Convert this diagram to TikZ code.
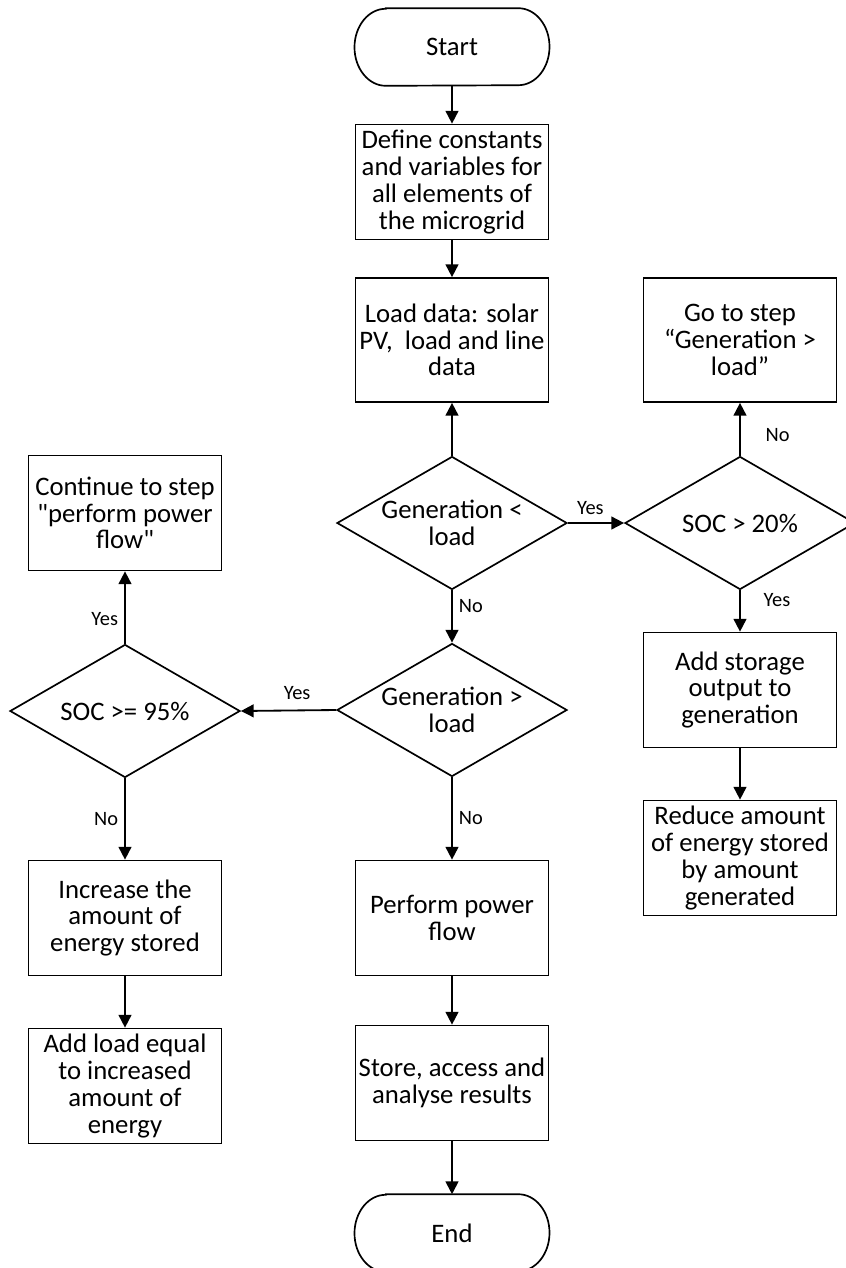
\documentclass[tikz,border=0pt]{standalone}
\usepackage{fontspec}
\setmainfont{Carlito}[Ligatures=TeXOff]
\usetikzlibrary{arrows.meta,shapes.geometric}

\begin{document}
\begin{tikzpicture}[x=0.025cm,y=-0.025cm,
			line/.style = {line width=1.3pt},
			arrow/.style = {line, -{Triangle[length=0.32cm,width=0.32cm]}},
			boxtext/.style = {align=center, font=\fontsize{19}{19}\selectfont},
			process/.style = {boxtext, draw, line width=1.2pt, minimum width=4.825cm, minimum height=2.875cm, inner sep=1pt},
			tallprocess/.style = {process, minimum height=3.1cm},
			decision/.style = {boxtext, draw, diamond, aspect=1.73, line width=1.2pt, minimum width=5.75cm, minimum height=3.325cm, inner sep=0pt},
			terminal/.style = {boxtext, minimum width=3.3cm, minimum height=1.925cm, inner sep=0pt},
			answer/.style = {font=\fontsize{14.5}{15}\selectfont, inner sep=2pt}
					]
			\def\termrx{0.78cm}
			\def\termry{0.9625cm}
			\def\drawterminal#1{\draw[line width=1.2pt] (#1.north west) -- (#1.north east)
				arc[start angle=90, end angle=-90, x radius=\termrx, y radius=\termry] -- (#1.south west)
				arc[start angle=270, end angle=90, x radius=\termrx, y radius=\termry] -- cycle;}
			\useasboundingbox (0,0) rectangle (846,1268);
			% middle column
			\node[terminal] (start) at (452,47) {Start};
			\node[process] (define) at (452,182) {Define constants\\and variables for\\all elements of\\the microgrid};
			\node[tallprocess] (loaddata) at (452,340) {Load data: solar\\PV,\ \ load and line\\data};
			\node[decision] (genless) at (452,523) {Generation <\\load};
			\node[decision] (genmore) at (452,710) {Generation >\\load};
			\node[process] (perform) at (452,918) {Perform power\\flow};
			\node[process] (store) at (452,1083) {Store, access and\\analyse results};
			\node[terminal] (end) at (452,1233) {End};
			\drawterminal{start}
			\drawterminal{end}
			% right column
			\node[decision] (soc20) at (740,523) {SOC > 20\%};
			\node[tallprocess] (gotostep) at (740,340) {Go to step\\“Generation >\\load”};
			\node[process] (addstorage) at (740,690) {Add storage\\output to\\generation};
			\node[process] (reduce) at (740,858) {Reduce amount\\of energy stored\\by amount\\generated};
			% left column
			\node[decision] (soc95) at (125,711) {SOC >= 95\%};
			\node[process] (continue) at (125,513) {Continue to step\\"perform power\\flow"};
			\node[process] (increase) at (125,918) {Increase the\\amount of\\energy stored};
			\node[process] (addload) at (125,1086) {Add load equal\\to increased\\amount of\\energy};
			% connectors
			\draw[arrow] (start) -- (define);
			\draw[arrow] (define) -- (loaddata);
			\draw[arrow] (genless) -- (loaddata);
			\draw[arrow] (genless.east) -- node[answer, above, pos=0.4, yshift=0.12cm] (yesgenless) {Yes} (soc20.west);
			\draw[arrow] (genless) -- node[answer, right, pos=0.29, xshift=0.08cm] (nogenless) {No} (genmore);
			\draw[arrow] (soc20) -- node[answer, right, pos=0.4, xshift=0.55cm] (nosoctwenty) {No} (gotostep);
			\draw[arrow] (soc20) -- node[answer, right, pos=0.24, xshift=0.5cm] (yessoctwenty) {Yes} (addstorage);
			\draw[arrow] (addstorage) -- (reduce);
			\draw[arrow] (genmore.west) -- node[answer, above, pos=0.41, yshift=0.18cm] (yesgenmore) {Yes} (soc95.east);
			\draw[arrow] (genmore) -- node[answer, right, pos=0.5, xshift=0.08cm] (nogenmore) {No} (perform);
			\draw[arrow] (soc95) -- node[answer, left, pos=0.34, xshift=-0.08cm] (yessocninety) {Yes} (continue);
			\draw[arrow] (soc95) -- node[answer, left, pos=0.5, xshift=-0.08cm] (nosocninety) {No} (increase);
			\draw[arrow] (increase) -- (addload);
			\draw[arrow] (perform) -- (store);
			\draw[arrow] (store) -- (end);
		\end{tikzpicture}
\end{document}
